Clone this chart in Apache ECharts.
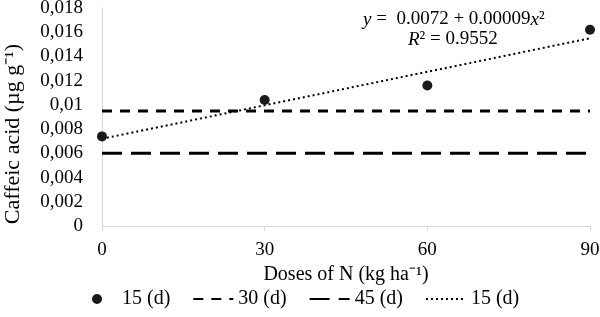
<!DOCTYPE html>
<html>
<head>
<meta charset="utf-8">
<script src="https://cdn.jsdelivr.net/npm/echarts@6/dist/echarts.min.js"></script>
<style>
  html, body { margin: 0; padding: 0; background: #fff; }
  #chart { width: 600px; height: 317px; }
</style>
</head>
<body>
<div id="chart"></div>
<script>
// doses of N (kg/ha)
var doses = [0, 30, 60, 90];
// measured caffeic acid at 15 d
var caffeic15 = [0.0074, 0.0104, 0.0116, 0.0162];
// mean levels at 30 d and 45 d (flat lines)
var mean30 = [0.0095, 0.0095];
var mean45 = [0.006, 0.006];
var flatX = [0, 90];
// fitted trend for 15 d
var trend15 = [0.0072, 0.0155];
var yTickLabels = ['0', '0,002', '0,004', '0,006', '0,008', '0,01', '0,012', '0,014', '0,016', '0,018'];
var xTickLabels = ['0', '30', '60', '90'];

var font = '"Liberation Serif", "Times New Roman", serif';
var hideDot = { opacity: 0, color: 'transparent', borderWidth: 0 };

function pairs(xs, ys) {
  return xs.map(function (x, i) { return [x, ys[i]]; });
}

var chart = echarts.init(document.getElementById('chart'));
chart.setOption({
  animation: false,
  textStyle: { fontFamily: font },
  grid: { left: 102, right: 10, top: 8, bottom: 91, outerBoundsMode: 'none', containLabel: false },
  xAxis: {
    type: 'value', min: 0, max: 90, interval: 30,
    name: 'Doses of N (kg ha\u207B\u00B9)',
    nameLocation: 'middle', nameGap: 36,
    nameTextStyle: { fontFamily: font, fontSize: 20, color: '#000' },
    axisLine: { show: true, lineStyle: { color: '#d9d9d9', width: 1 } },
    axisTick: { show: true, length: 5, lineStyle: { color: '#d9d9d9' } },
    axisLabel: {
      fontFamily: font, fontSize: 19, color: '#000', margin: 15,
      formatter: function (v, i) { return xTickLabels[i]; }
    },
    splitLine: { show: false }
  },
  yAxis: {
    type: 'value', min: 0, max: 0.018, interval: 0.002,
    name: 'Caffeic acid (\u00B5g g\u207B\u00B9)',
    nameLocation: 'middle', nameGap: 78, nameRotate: 90,
    nameTextStyle: { fontFamily: font, fontSize: 22, color: '#000', padding: [0, 34, 0, 0] },
    axisLine: { show: true, lineStyle: { color: '#d9d9d9', width: 1 } },
    axisTick: { show: false },
    axisLabel: {
      fontFamily: font, fontSize: 19, color: '#000', margin: 19,
      formatter: function (v, i) { return yTickLabels[i]; }
    },
    splitLine: { show: false }
  },
  legend: {
    top: 284, left: 87, itemGap: 22, itemWidth: 40, itemHeight: 10,
    textStyle: { fontFamily: font, fontSize: 20, color: '#000' },
    data: [
      { name: '15 (d)', icon: 'circle' },
      { name: '30 (d)', itemStyle: hideDot },
      { name: '45 (d)', itemStyle: hideDot },
      { name: '15 (d) ', itemStyle: hideDot }
    ]
  },
  graphic: [
    {
      type: 'text', left: 363, top: 10,
      style: {
        text: '{i|y} =  0.0072 + 0.00009{i|x}\u00B2',
        fontFamily: font, fontSize: 19, fill: '#000',
        rich: { i: { fontStyle: 'italic', fontFamily: font, fontSize: 19 } }
      }
    },
    {
      type: 'text', left: 408, top: 30,
      style: {
        text: '{i|R}\u00B2 = 0.9552',
        fontFamily: font, fontSize: 19, fill: '#000',
        rich: { i: { fontStyle: 'italic', fontFamily: font, fontSize: 19 } }
      }
    }
  ],
  series: [
    {
      name: '30 (d)', type: 'line', data: pairs(flatX, mean30),
      symbol: 'none', lineStyle: { color: '#000', width: 3, type: [10, 8] },
      itemStyle: { color: '#000' }
    },
    {
      name: '45 (d)', type: 'line', data: pairs(flatX, mean45),
      symbol: 'none', lineStyle: { color: '#000', width: 3, type: [20, 9] },
      itemStyle: { color: '#000' }
    },
    {
      name: '15 (d) ', type: 'line', data: pairs(flatX, trend15),
      symbol: 'none', lineStyle: { color: '#000', width: 2, type: [2, 3] },
      itemStyle: { color: '#000' }
    },
    {
      name: '15 (d)', type: 'scatter', data: pairs(doses, caffeic15),
      symbol: 'circle', symbolSize: 10,
      itemStyle: { color: '#1a1a1a', opacity: 1 }, z: 5
    }
  ]
});
</script>
</body>
</html>
